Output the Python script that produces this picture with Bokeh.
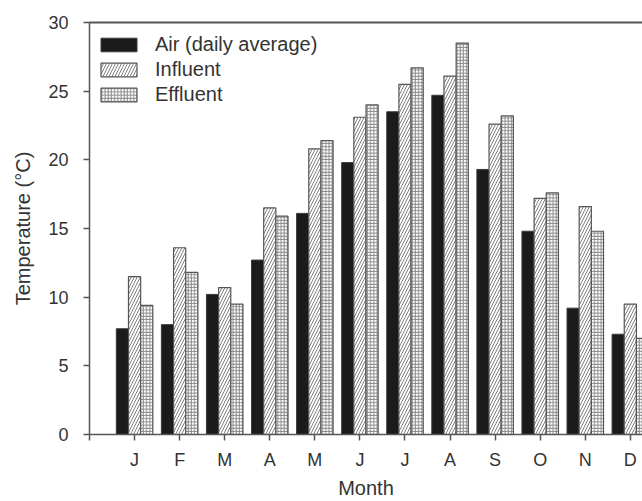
from bokeh.plotting import figure
from bokeh.models import FixedTicker, LinearAxis, Legend, LegendItem, Range1d, ColumnDataSource
from bokeh.transform import dodge
from bokeh.embed import file_html
from bokeh.resources import INLINE

months = ["J", "F", "M", "A", "M", "J", "J", "A", "S", "O", "N", "D"]
month_num = list(range(1, 13))
air = [7.7, 8.0, 10.2, 12.7, 16.1, 19.8, 23.5, 24.7, 19.3, 14.8, 9.2, 7.3]
influent = [11.5, 13.6, 10.7, 16.5, 20.8, 23.1, 25.5, 26.1, 22.6, 17.2, 16.6, 9.5]
effluent = [9.4, 11.8, 9.5, 15.9, 21.4, 24.0, 26.7, 28.5, 23.2, 17.6, 14.8, 7.0]
y_ticks = [0, 5, 10, 15, 20, 25, 30]

src = ColumnDataSource(dict(x=month_num, air=air, influent=influent, effluent=effluent))

FONT = "Liberation Sans"
TXT = "#333333"
LINE = "#555555"

p = figure(width=642, height=501, output_backend="svg", toolbar_location=None,
           x_range=Range1d(0, 12.27), y_range=Range1d(0, 30),
           min_border_left=89, min_border_right=0, min_border_top=22, min_border_bottom=67)
p.outline_line_color = None
p.background_fill_color = "white"
p.border_fill_color = "white"
p.xgrid.visible = False
p.ygrid.visible = False

w = 0.27
r_air = p.vbar(x=dodge("x", -0.27, range=p.x_range), top="air", width=w, source=src,
               fill_color="#1b1b1b", line_color="#3a3a3a", line_width=1)
r_inf = p.vbar(x=dodge("x", 0.0, range=p.x_range), top="influent", width=w, source=src,
               fill_color="white", line_color=LINE, line_width=1.2,
               hatch_pattern="/", hatch_color="#808080", hatch_scale=6, hatch_weight=1)
r_eff = p.vbar(x=dodge("x", 0.27, range=p.x_range), top="effluent", width=w, source=src,
               fill_color="white", line_color=LINE, line_width=1.2,
               hatch_pattern="+", hatch_color="#8a8a8a", hatch_scale=3.2, hatch_weight=1)

# axes
xa = p.xaxis[0]
xa.ticker = FixedTicker(ticks=[0] + month_num)
xa.major_label_overrides = {0: "", **{m: lab for m, lab in zip(month_num, months)}}
xa.axis_label = "Month"
ya = p.yaxis[0]
ya.ticker = FixedTicker(ticks=y_ticks)
ya.axis_label = "Temperature (°C)"

for ax in (xa, ya):
    ax.axis_line_color = LINE
    ax.axis_line_width = 1.5
    ax.major_tick_line_color = LINE
    ax.major_tick_line_width = 1.5
    ax.major_tick_out = 6
    ax.major_tick_in = 0
    ax.minor_tick_line_color = None
    ax.major_label_text_font = FONT
    ax.major_label_text_font_size = "18px"
    ax.major_label_text_color = TXT
    ax.axis_label_text_font = FONT
    ax.axis_label_text_font_size = "20px"
    ax.axis_label_text_font_style = "normal"
    ax.axis_label_text_color = TXT

xa.major_label_standoff = 9
xa.axis_label_standoff = 4
ya.major_label_standoff = 15
ya.axis_label_standoff = 11

top = LinearAxis(ticker=FixedTicker(ticks=[]), axis_line_color=LINE, axis_line_width=2,
                 major_tick_line_color=None, minor_tick_line_color=None,
                 major_label_text_font_size="0px")
p.add_layout(top, "above")

legend = Legend(items=[
    LegendItem(label="Air (daily average)", renderers=[r_air]),
    LegendItem(label="Influent", renderers=[r_inf]),
    LegendItem(label="Effluent", renderers=[r_eff]),
], location=(7, 328))
legend.border_line_color = None
legend.background_fill_alpha = 0
legend.padding = 0
legend.margin = 0
legend.spacing = 2
legend.glyph_width = 45
legend.glyph_height = 17
legend.label_height = 23
legend.label_standoff = 14
legend.label_text_font = FONT
legend.label_text_font_size = "20px"
legend.label_text_color = TXT
p.add_layout(legend, "center")

open("out.html", "w").write(file_html(p, INLINE))
